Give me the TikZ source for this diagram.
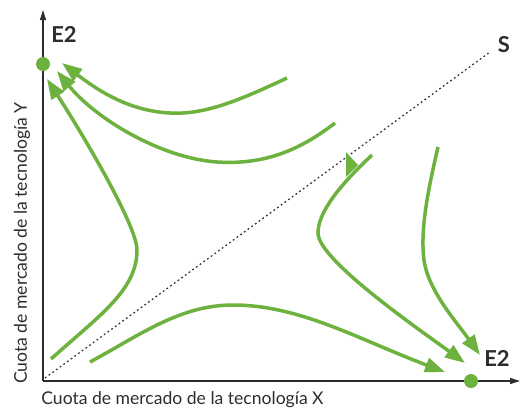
\documentclass[tikz,border=0pt]{standalone}
\usepackage{fontspec}
\setmainfont{Lato}
\usetikzlibrary{arrows.meta}
\definecolor{flowgreen}{RGB}{109,177,63}
\definecolor{axisgrey}{RGB}{45,45,45}
\tikzset{
  flow/.style={draw=flowgreen, line width=0.7mm, -{Triangle[length=4mm,width=2.9mm]}},
  dot/.style={circle, fill=flowgreen, minimum size=2.8mm, inner sep=0pt},
  axis/.style={draw=axisgrey, line width=0.6pt, -{Triangle[length=2mm,width=1.2mm]}},
  diag/.style={draw=axisgrey, line width=0.7pt, dash pattern=on 1pt off 1.6pt},
  lab/.style={font=\fontsize{12.5}{14}\selectfont\bfseries, text=axisgrey, inner sep=0pt},
  axlabel/.style={font=\fontsize{10}{12}\selectfont, text=axisgrey, inner sep=0pt}
}
\begin{document}
\begin{tikzpicture}[x=0.02cm, y=-0.02cm]
      \useasboundingbox (0,0) rectangle (521,410);
      \coordinate (o) at (43,381);
      \coordinate (ytop) at (43,10);
      \coordinate (xend) at (520,381);
      \draw[axis] (o) -- (ytop);
      \draw[axis] (o) -- (xend);

      \coordinate (s0) at (45,378);
      \coordinate (s1) at (490,52);
      \draw[diag] (s0) -- (s1);

      \node[dot] (e2a) at (43,64) {};
      \node[dot] (e2b) at (471,381) {};
      \node[lab] (e2alab) at (64,34) {E2};
      \node[lab] (e2blab) at (497,358) {E2};
      \node[lab] (slab) at (504,45) {S};

      \node[axlabel, anchor=west] (xlab) at (41,400) {Cuota de mercado de la tecnología X};
      \node[axlabel, rotate=90] (ylab) at (22,243) {Cuota de mercado de la tecnología Y};

      \coordinate (a1) at (287,78);
      \coordinate (b1) at (62,63);
      \coordinate (a2) at (335,123);
      \coordinate (b2) at (57,71);
      \coordinate (a3) at (51,359);
      \coordinate (b3) at (47,79);
      \coordinate (a4) at (372,155);
      \coordinate (b4) at (465,363);
      \coordinate (a5) at (438,147);
      \coordinate (b5) at (480,355);
      \coordinate (a6) at (90,362);
      \coordinate (b6) at (445,372);

      \draw[flow] (a1) .. controls (240,100) and (205,115) .. (170,113) .. controls (130,111) and (100,92) .. (b1);
      \draw[flow] (a2) .. controls (300,150) and (265,165) .. (217,162) .. controls (160,158) and (95,118) .. (b2);
      \draw[flow] (a3) .. controls (100,315) and (137,290) .. (137,250) .. controls (137,225) and (80,130) .. (b3);
      \draw[flow] (a4) .. controls (340,185) and (318,212) .. (318,233) .. controls (318,260) and (420,330) .. (b4);
      \draw[flow] (a5) .. controls (428,190) and (420,230) .. (424,260) .. controls (428,290) and (455,320) .. (b5);
      \draw[flow] (a6) .. controls (140,335) and (180,305) .. (233,305) .. controls (300,305) and (360,340) .. (b6);
      \fill[flowgreen] (346,152) -- (358,165) -- (346,177) -- cycle;
\end{tikzpicture}
\end{document}
